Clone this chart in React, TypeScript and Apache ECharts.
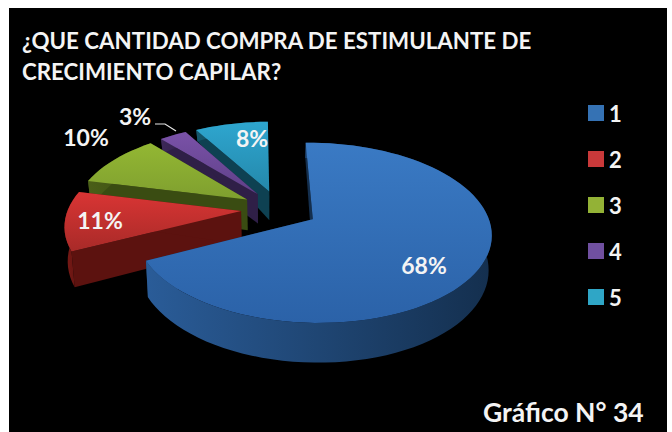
import React, { useEffect, useRef } from "react";
import * as echarts from "echarts";

const FONT = "Lato, Carlito, 'Open Sans', sans-serif";

const titleLines = ["¿QUE CANTIDAD COMPRA DE ESTIMULANTE DE", "CRECIMIENTO CAPILAR?"];
const categories = ["1", "2", "3", "4", "5"];
const values = [68, 11, 10, 3, 8];
const footer = "Gráfico N° 34";

const topColors = [
  ["#3a7ac4", "#2b62a8"],
  ["#d93534", "#a82a28"],
  ["#93b733", "#7f9f2f"],
  ["#7a52a8", "#5f4088"],
  ["#2ea6cf", "#2488ab"],
];
const wallColors = [
  ["#2a5c98", "#142f4e"],
  ["#7a1a16", "#5c120f"],
  ["#4a5f18", "#3a4c12"],
  ["#3d2859", "#2f1f47"],
  ["#14566a", "#0e4152"],
];
const legendColors = ["#3572b4", "#c9393a", "#93b236", "#7050a0", "#2fa6c6"];
const labelAt = [
  [424, 265],
  [100, 220],
  [86, 137],
  [135, 116],
  [252, 138],
];
const explodeBy = [0.225, 0.22, 0.22, 0.22, 0.22];

const START_DEG = -1;
const CX = 279;
const CY = 209;
const RX = 173;
const RY = 85;
const PERSP = 0.149;

const project = (X: number, Y: number) => {
  const w = 1 - PERSP * Y;
  return [CX + (RX * X) / w, CY + (RY * Y) / w];
};
const depthAt = (Y: number) => (Y < 0 ? Math.max(10, 33 + 20 * Y) : 33 + 6 * Y);
const lower = (X: number, Y: number) => {
  const [sx, sy] = project(X, Y);
  return [CX + (sx - CX) * 0.985, sy + depthAt(Y)];
};

const total = values.reduce((a, b) => a + b, 0);

function sliceGeometry(index: number) {
  const before = values.slice(0, index).reduce((a, b) => a + b, 0);
  const a0 = START_DEG + (before / total) * 360;
  const a1 = a0 + (values[index] / total) * 360;
  const mid = (((a0 + a1) / 2) * Math.PI) / 180;
  const ox = explodeBy[index] * Math.sin(mid);
  const oy = -explodeBy[index] * Math.cos(mid);
  const rim: number[][] = [];
  const steps = Math.max(6, Math.round((a1 - a0) / 3));
  for (let i = 0; i <= steps; i++) {
    const t = ((a0 + ((a1 - a0) * i) / steps) * Math.PI) / 180;
    rim.push([ox + Math.sin(t), oy - Math.cos(t)]);
  }
  return { ox, oy, rim };
}

const linear = (a: string, b: string, horizontal: boolean) =>
  new echarts.graphic.LinearGradient(0, 0, horizontal ? 1 : 0, horizontal ? 0 : 1, [
    { offset: 0, color: a },
    { offset: 1, color: b },
  ]);

function renderSlice(index: number) {
  return () => {
    const { ox, oy, rim } = sliceGeometry(index);
    const apex = project(ox, oy);
    const apexLow = lower(ox, oy);
    const top = rim.map(([x, y]) => project(x, y));
    const low = rim.map(([x, y]) => lower(x, y));
    const wall = { fill: linear(wallColors[index][0], wallColors[index][1], true) };
    const solid = { fill: wallColors[index][1] };
    const children: any[] = [
      {
        type: "polygon",
        shape: { points: [apex, top[0], low[0], apexLow] },
        style: solid,
        silent: true,
      },
      {
        type: "polygon",
        shape: { points: [apex, top[top.length - 1], low[low.length - 1], apexLow] },
        style: solid,
        silent: true,
      },
      {
        type: "polygon",
        shape: { points: [...top, ...low.slice().reverse()] },
        style: wall,
        silent: true,
      },
      {
        type: "polygon",
        shape: { points: [apex, ...top] },
        style: { fill: linear(topColors[index][0], topColors[index][1], false) },
        silent: true,
      },
    ];
    return { type: "group", children };
  };
}

export default function App() {
  const ref = useRef<HTMLDivElement>(null);

  useEffect(() => {
    if (!ref.current) return;
    const chart = echarts.init(ref.current, undefined, { renderer: "svg" });

    const sliceSeries = categories
      .map((name, i) => ({
        type: "custom" as const,
        name,
        coordinateSystem: "none",
        data: [values[i]],
        itemStyle: { color: legendColors[i] },
        renderItem: renderSlice(i),
        silent: true,
        z: 5,
      }))
      .reverse();

    const textStyle = {
      fontFamily: FONT,
      fontWeight: "bold",
      fill: "#f4f4f4",
    };

    chart.setOption({
      animation: false,
      backgroundColor: "#ffffff",
      legend: {
        data: categories,
        orient: "vertical",
        left: 583,
        top: 97,
        itemWidth: 16,
        itemHeight: 16,
        itemGap: 24,
        icon: "rect",
        selectedMode: false,
        textStyle: {
          color: "#f4f4f4",
          fontFamily: FONT,
          fontWeight: "bold",
          fontSize: 22,
          lineHeight: 22,
          padding: [0, 0, 0, 0],
        },
      },
      graphic: [
        { type: "rect", z: 0, shape: { x: 9, y: 8, width: 658, height: 424 }, style: { fill: "#000000" }, silent: true },
        {
          type: "text",
          z: 10,
          x: 22,
          y: 40,
          style: { ...textStyle, text: titleLines[0], fontSize: 22.3, verticalAlign: "middle" },
        },
        {
          type: "text",
          z: 10,
          x: 22,
          y: 71,
          style: { ...textStyle, text: titleLines[1], fontSize: 22.3, verticalAlign: "middle" },
        },
        {
          type: "text",
          z: 10,
          x: 483,
          y: 412,
          style: { ...textStyle, text: footer, fontSize: 26.5, verticalAlign: "middle" },
        },
        ...values.map((v, i) => ({
          type: "text",
          z: 10,
          x: labelAt[i][0],
          y: labelAt[i][1],
          style: {
            ...textStyle,
            text: `${v}%`,
            fontSize: 23,
            align: "center",
            verticalAlign: "middle",
          },
        })),
        {
          type: "polyline",
          z: 10,
          shape: { points: [[155, 124], [165, 124], [176, 131]] },
          style: { stroke: "#e8e8e8", lineWidth: 1.2, fill: "none" },
          silent: true,
        },
      ],
      series: sliceSeries,
    });

    return () => chart.dispose();
  }, []);

  return (
    <div
      ref={ref}
      style={{ position: "fixed", left: 0, top: 0, width: 672, height: 432 }}
    />
  );
}
